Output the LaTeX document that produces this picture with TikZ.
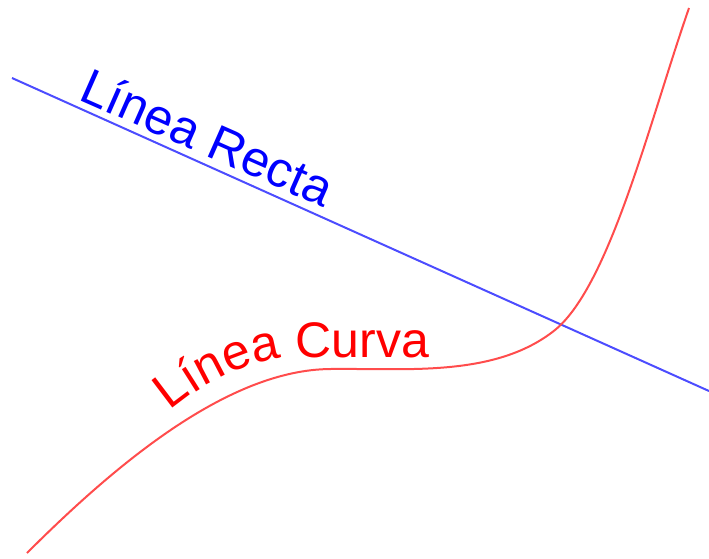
\documentclass[tikz,border=0pt]{standalone}
\usepackage{fontspec}
\setmainfont{Liberation Sans}
\usetikzlibrary{decorations.text}
\begin{document}
\begin{tikzpicture}[x=1pt,y=-1pt,
  recta/.style={draw=blue!70, line width=2pt},
  curva/.style={draw=red!70, line width=2pt},
  lbl/.style={font=\fontsize{50}{60}\selectfont, inner sep=0pt}]
\useasboundingbox (0,0) rectangle (709,558);
\coordinate (r1) at (12,78);
\coordinate (r2) at (709,391);
\coordinate (c1) at (27,553);
\coordinate (c2) at (330,369);
\coordinate (c3) at (555,330);
\coordinate (c4) at (689,8);
\draw[recta] (r1) -- (r2);
\node[lbl, text=blue, rotate=-23.8, anchor=base west] (lr) at (77,99) {Línea Recta};
\draw[curva] (c1) .. controls (120,460) and (230,370) .. (c2)
  .. controls (405,368) and (495,378) .. (c3)
  .. controls (610,285) and (650,120) .. (c4);
\path[decorate, decoration={text along path, text align=left,
  text={|\fontsize{50}{60}\selectfont\color{red}|Línea Curva}}]
  (170,411) .. controls (205,381) and (255,357) .. (299,357) -- (480,357);
\end{tikzpicture}
\end{document}
